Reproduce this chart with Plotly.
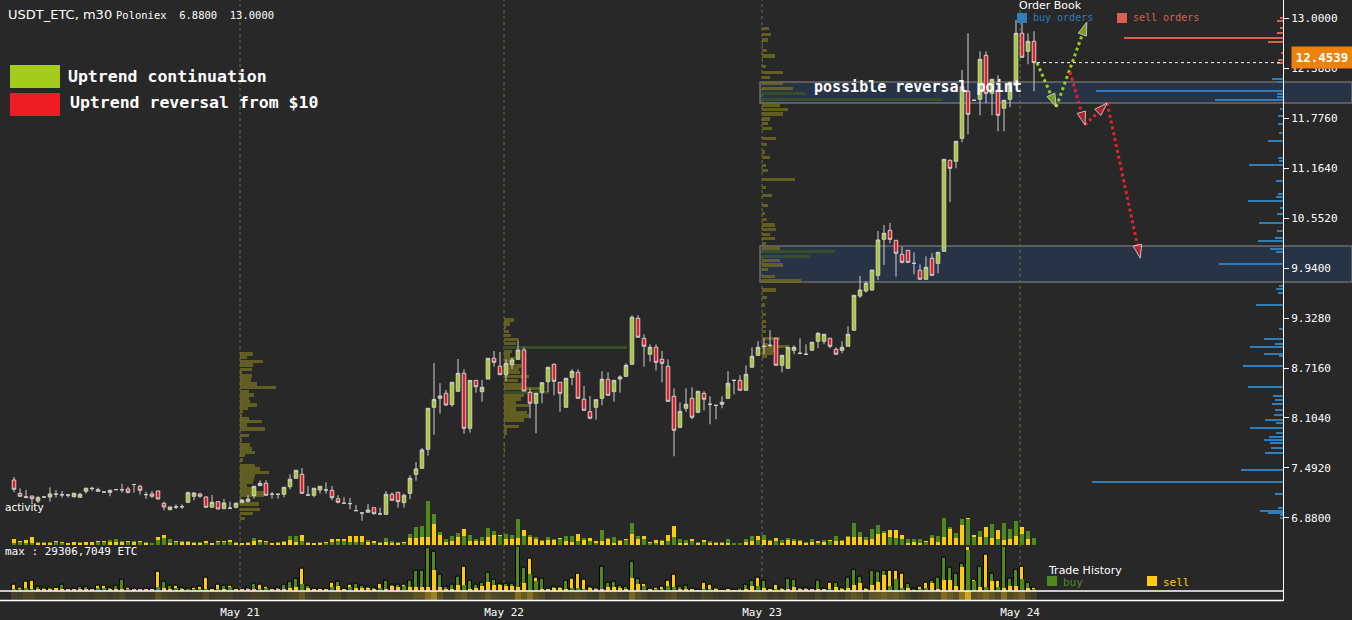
import plotly.graph_objects as go

# ---------------- data ----------------
open_ = [7.345,7.182,7.140,7.149,7.088,7.137,7.137,7.174,7.162,7.162,
         7.141,7.133,7.207,7.244,7.227,7.198,7.194,7.227,7.227,7.235,
         7.290,7.268,7.166,7.174,7.211,7.060,6.982,7.015,7.015,7.072,
         7.146,7.174,7.137,7.011,7.080,6.994,7.000,7.011,7.072,7.084,
         7.153,7.276,7.305,7.170,7.172,7.170,7.263,7.366,7.415,7.162,
         7.158,7.223,7.223,7.219,7.116,7.060,7.056,6.970,6.941,6.950,
         7.006,6.929,6.925,7.170,7.195,7.068,7.182,7.415,7.488,7.721,
         8.235,8.345,8.406,8.267,8.431,8.651,7.978,8.565,8.426,8.581,
         8.835,8.737,8.634,8.757,8.822,8.936,8.418,8.284,8.418,8.548,
         8.761,8.541,8.235,8.602,8.663,8.333,8.181,8.235,8.345,8.578,
         8.426,8.581,8.614,8.761,9.324,9.080,8.884,8.970,8.822,8.737,
         8.370,7.990,8.223,8.345,8.174,8.406,8.272,8.260,8.272,8.345,
         8.565,8.565,8.443,8.725,8.871,8.981,8.994,9.080,8.749,8.712,
         8.932,8.896,8.884,8.933,9.043,9.043,9.080,8.945,8.932,8.982,
         9.178,9.597,9.659,9.671,9.850,10.291,10.401,10.279,10.107,10.156,
         9.997,9.912,9.802,10.059,9.997,10.144,11.258,11.246,11.527,12.103,
         11.993,12.005,12.543,12.078,12.115,11.895,12.005,12.176,12.813,12.592,
         12.715]
high = [7.382,7.243,7.222,7.149,7.149,7.140,7.255,7.223,7.210,7.174,
        7.190,7.190,7.251,7.264,7.251,7.200,7.227,7.230,7.300,7.264,
        7.292,7.288,7.203,7.211,7.211,7.080,7.015,7.047,7.047,7.203,
        7.195,7.190,7.146,7.162,7.080,7.113,7.080,7.072,7.100,7.158,
        7.268,7.342,7.342,7.198,7.172,7.256,7.415,7.464,7.492,7.272,
        7.244,7.268,7.317,7.272,7.158,7.133,7.125,7.039,6.943,7.051,
        7.006,7.006,7.210,7.195,7.195,7.178,7.403,7.566,7.737,8.223,
        8.777,8.529,8.447,8.541,8.826,8.700,8.565,8.565,8.569,8.835,
        8.924,8.912,8.822,8.842,9.046,8.969,8.467,8.406,8.536,8.725,
        8.773,8.541,8.590,8.700,8.700,8.496,8.373,8.328,8.676,8.663,
        8.565,8.627,8.773,9.361,9.361,9.129,9.006,9.006,8.924,8.822,
        8.467,8.296,8.467,8.480,8.431,8.431,8.370,8.262,8.370,8.676,
        8.567,8.627,8.749,8.969,9.043,9.080,9.178,9.080,8.871,8.969,
        8.994,9.080,9.006,9.031,9.153,9.129,9.080,8.969,9.043,9.227,
        9.606,9.842,9.780,9.915,10.393,10.466,10.491,10.279,10.205,10.156,
        10.132,9.985,10.083,10.120,10.132,11.270,11.270,11.491,12.364,12.813,
        11.996,12.592,12.592,12.250,12.299,11.993,12.213,12.976,12.976,12.813,
        12.837]
low = [7.195,7.137,7.120,7.067,7.063,7.130,7.080,7.129,7.129,7.129,
       7.129,7.129,7.178,7.211,7.207,7.195,7.146,7.225,7.190,7.178,
       7.190,7.166,7.113,7.125,7.109,6.974,6.974,6.990,6.990,7.072,
       7.097,7.129,7.011,7.011,6.990,6.994,6.990,6.998,7.060,7.072,
       7.116,7.276,7.158,7.116,7.116,7.133,7.231,7.366,7.182,7.160,
       7.133,7.178,7.178,7.097,7.060,7.051,6.987,6.968,6.847,6.950,
       6.921,6.925,6.925,7.097,7.006,7.006,7.109,7.337,7.488,7.643,
       7.900,8.157,8.255,8.242,8.431,7.912,7.924,8.414,8.304,8.581,
       8.732,8.634,8.557,8.704,8.822,8.434,8.100,7.917,8.284,8.418,
       8.382,8.181,8.235,8.504,8.345,8.198,8.088,8.083,8.259,8.382,
       8.304,8.414,8.614,8.761,9.092,8.732,8.794,8.683,8.541,8.308,
       7.635,7.978,8.181,8.088,8.162,8.198,8.027,8.088,8.223,8.345,
       8.394,8.443,8.443,8.725,8.871,8.884,8.969,8.749,8.663,8.712,
       8.884,8.884,8.882,8.933,8.957,9.006,8.957,8.884,8.896,8.982,
       9.178,9.573,9.640,9.660,9.793,9.977,10.242,9.834,9.997,10.009,
       9.863,9.802,9.802,9.850,9.875,10.144,10.744,11.160,11.478,11.576,
       11.990,11.809,11.956,11.809,11.613,11.613,11.907,12.176,12.519,12.433,
       12.103]
close = [7.231,7.146,7.133,7.116,7.129,7.137,7.174,7.170,7.165,7.160,
         7.182,7.170,7.244,7.240,7.207,7.198,7.219,7.227,7.225,7.195,
         7.290,7.219,7.166,7.146,7.113,7.015,7.015,7.015,7.020,7.190,
         7.186,7.146,7.011,7.072,6.990,7.064,7.000,7.060,7.100,7.112,
         7.268,7.305,7.158,7.170,7.170,7.256,7.354,7.464,7.182,7.160,
         7.244,7.268,7.223,7.129,7.072,7.060,7.056,6.970,6.941,6.978,
         6.933,6.929,7.170,7.097,7.080,7.158,7.366,7.480,7.712,8.223,
         8.330,8.373,8.263,8.541,8.651,7.978,8.565,8.487,8.480,8.835,
         8.786,8.634,8.769,8.814,8.936,8.434,8.284,8.406,8.536,8.725,
         8.553,8.406,8.590,8.675,8.345,8.198,8.101,8.328,8.578,8.382,
         8.565,8.606,8.749,9.337,9.092,8.982,8.970,8.786,8.773,8.308,
         7.954,8.186,8.272,8.113,8.431,8.333,8.272,8.258,8.296,8.529,
         8.565,8.443,8.639,8.859,8.969,8.981,8.994,8.749,8.871,8.969,
         8.969,8.896,8.884,9.031,9.141,9.129,8.982,8.884,8.969,9.129,
         9.606,9.671,9.753,9.915,10.283,10.365,10.291,10.120,10.009,10.009,
         9.997,9.802,9.949,9.850,10.132,11.270,11.160,11.491,12.159,11.821,
         11.993,12.494,12.078,12.250,11.809,11.993,12.213,12.813,12.519,12.715,
         12.4539]

# activity panel (ETC)
act_buy = [1500,2000,1500,1300,2000,2000,2000,2000,1500,1500,
           2000,2000,2000,2000,2000,2000,3100,3800,2700,2000,
           2700,2000,2000,1100,3500,4700,4000,2000,2700,2700,
           2000,2000,1500,1500,2000,2000,2000,2000,1500,2000,
           4700,2000,2000,1500,2000,2700,6200,6200,2700,2000,
           1500,2000,1500,2000,2700,2700,2000,2000,2000,3300,
           1500,2000,4700,2700,2000,1100,7300,12000,12700,29300,
           20600,8700,4000,6000,8000,6000,6700,4000,5300,11300,
           9300,6000,7300,6700,17300,6000,6700,5300,3300,5300,
           4000,4000,6000,6000,2700,4700,2700,1300,10000,4700,
           5300,3300,3300,14700,6000,4000,1300,1300,3300,2700,
           5300,4000,3300,2700,2000,2000,2700,2000,2000,4000,
           700,700,4000,6000,3300,6700,3300,2700,3300,4700,
           4000,3300,2000,4000,1300,3300,2700,6000,3300,6000,
           14700,8700,5300,10700,13300,9300,5300,4700,4000,4000,
           4000,4000,2000,6700,6000,18000,12000,8000,17300,17300,
           5300,9300,5300,14000,4000,14700,10700,16000,7300,9300,
           4700]
act_sell = [4000,2900,3500,5300,700,1100,1500,2700,2000,1100,
            2000,1500,2000,2000,2700,2700,2000,2000,2000,2700,
            2000,2700,1500,1500,5300,6700,1500,2700,2000,2000,
            1500,1100,2700,1100,2900,2700,3300,1100,1100,1500,
            2900,3300,2700,1100,1500,2000,3300,2200,6700,1500,
            1100,1500,2000,4000,4000,4000,6000,6000,6000,2000,
            2700,1100,2000,1500,1500,2000,4700,4700,5300,5300,
            14000,6700,2000,2900,5300,10700,2700,2700,2700,5300,
            6700,6700,4000,4000,4700,10000,5300,4000,2700,3300,
            3300,4700,2700,2000,7300,3300,4700,2700,2700,4000,
            1300,2700,4000,7300,4000,6000,2000,3300,2700,6700,
            12700,1300,1300,4000,1300,3300,1300,1100,1100,1300,
            1300,1300,2000,2700,6000,3300,2700,4700,1300,3300,
            2700,2700,1300,2000,2700,2000,3300,2700,2700,5300,
            5300,5300,3300,4000,7300,8000,10000,10000,6700,1300,
            2000,1300,2700,4700,2000,5300,10700,4700,13300,18000,
            6700,5300,12000,4700,10000,3300,4000,6000,12000,4000,
            0]

# max panel (ETC)
max_buy = [1100,1100,2000,1300,2500,1800,2000,2000,3800,1100,
           1100,2500,2500,1100,2000,2000,1800,3300,7100,1100,
           1300,1300,1100,1100,2500,5800,3300,1800,1800,700,
           700,700,1100,1100,1100,3100,2500,1100,900,1800,
           4500,1100,1800,1100,1800,3800,5800,7800,4500,3100,
           1100,1100,1100,2500,5800,1100,2500,4500,3100,2500,
           1800,1800,6500,3800,3800,3100,6500,13100,13100,28400,
           25800,10500,2500,3800,9100,3800,6500,3800,5100,11800,
           7100,4500,4500,4500,29100,15100,11100,6500,8200,1100,
           2700,2500,6500,1800,1800,1100,2500,1800,15800,5100,
           5800,3100,2500,19100,7800,3100,1100,700,1100,3100,
           2500,2500,3100,1100,500,1100,1100,1800,500,1100,
           500,300,3800,6500,3100,6500,1100,1100,1800,7800,
           7100,1800,1800,1100,6500,1100,700,5100,2000,8500,
           13800,9100,1800,13100,12500,13100,3100,7800,1800,4500,
           1100,1100,1800,6500,8500,21800,15100,11100,17800,27100,
           6500,15800,2500,11100,2500,29100,7800,13800,7800,5100,
           1100]
max_sell = [3800,2000,5800,6500,1100,1100,1100,2000,1300,1100,
            700,700,700,700,3300,3300,700,1100,1100,1800,
            700,700,700,700,12500,1800,1100,3300,700,1100,
            1800,2500,8500,700,3800,1100,3100,700,700,700,
            1100,3800,2500,700,1100,1100,2000,2500,14500,1800,
            700,700,700,5100,3100,700,3800,1800,1800,1800,
            700,4500,1100,3100,2500,3800,2500,2500,2500,2500,
            13800,2500,1100,1100,3800,15800,1100,1800,3100,5800,
            3800,3800,3100,3100,2500,5100,21100,8500,1100,700,
            1800,1800,1100,7800,11100,7100,1800,700,1100,2500,
            2500,1800,1100,8500,4500,4500,700,1800,2500,6500,
            10500,1100,1100,700,300,5100,3800,700,300,700,
            300,1100,700,3100,8500,1800,700,3800,700,1100,
            2500,700,700,700,700,700,5100,2500,1100,1800,
            3800,5100,1100,3800,5800,10500,13100,13100,11100,1800,
            500,2500,5100,5100,1100,7100,7100,3100,15800,29100,
            7100,2500,23800,6500,6500,1800,3100,3100,15800,1800,
            1800]

# order book
buy_price = [12.250,12.217,12.110,12.066,12.037,11.996,11.882,11.800,11.699,11.589,
             11.495,11.290,11.250,11.204,11.005,10.842,10.813,10.760,10.671,10.597,
             10.487,10.393,10.311,10.271,10.169,10.132,9.985,9.720,9.679,9.634,
             9.484,9.190,9.067,9.006,8.977,8.887,8.866,8.741,8.480,8.374,
             8.324,8.275,8.202,8.141,8.079,8.043,7.978,7.917,7.872,7.835,
             7.794,7.733,7.679,7.467,7.317,7.170,6.999,6.966,6.938,6.917,6.880]
buy_amount = [1100,600,18700,600,600,6800,300,500,500,400,
              1500,500,400,3400,700,500,700,3500,300,600,
              2400,600,800,2500,1300,700,6400,400,700,500,
              2700,400,1900,800,3300,1900,400,4000,3500,1000,
              800,1100,800,900,1800,700,3300,700,1400,1900,
              1300,1200,1800,4200,19100,800,500,2300,1500,300,300]
sell_price = [13.004,12.967,12.874,12.820,12.751,12.710,12.568,12.486,12.453]
sell_amount = [300,600,300,600,15900,1500,200,500,600]

# volume profiles at day starts
prof1_price = [8.887,8.847,8.793,8.753,8.700,8.658,8.618,8.569,8.520,8.475,
               8.426,8.386,8.345,8.304,8.263,8.222,8.181,8.132,8.092,8.059,
               8.018,7.969,7.888,7.835,7.774,7.725,7.684,7.643,7.590,7.520,
               7.480,7.439,7.398,7.357,7.317,7.276,7.235,7.194,7.153,7.100,
               7.051,6.987,6.938,6.876]
prof1_vol = [1270,670,2270,1270,1170,170,1170,1070,1670,3570,
             870,1370,870,970,1670,770,270,170,870,2170,
             670,2470,870,170,970,1170,1470,470,270,1470,
             1970,2870,1470,1370,1270,670,1470,2570,2370,170,
             1870,1970,1270,470]
prof2_price = [9.303,9.255,9.209,9.160,9.111,9.067,9.018,8.970,8.916,8.875,
               8.826,8.781,8.741,8.700,8.659,8.610,8.561,8.508,8.467,8.418,
               8.377,8.337,8.296,8.255,8.214,8.174,8.129,8.079,8.039,7.998,
               7.957,7.916,7.875,7.774,7.692]
prof2_vol = [1000,600,200,500,700,1500,1200,12300,800,600,
             1100,1000,1700,1500,1600,2500,1400,1700,3600,4400,
             2000,1700,1200,2600,1200,2300,2500,2000,100,1500,
             300,300,100,100,100]
prof3_price = [12.874,12.801,12.731,12.670,12.600,12.535,12.465,12.404,12.335,12.270,
               12.201,12.140,12.078,12.005,11.935,11.882,11.825,11.764,11.711,11.650,
               11.527,11.450,11.360,11.290,11.200,11.130,11.020,10.930,10.830,10.710,
               10.610,10.530,10.466,10.414,10.352,10.303,10.242,10.181,10.139,10.083,
               10.029,9.977,9.924,9.834,9.781,9.671,9.577,9.487,9.373,9.283,
               9.221,9.160,9.080,8.998,8.977,8.936,8.896,8.855]
prof3_vol = [700,900,600,100,500,1300,100,400,2100,800,
             2100,3100,4400,18000,1800,2600,2100,800,600,1000,
             1400,500,300,800,400,600,3300,400,1000,600,
             300,500,1300,1400,800,1300,400,1800,7300,4800,
             1800,2100,600,1300,3900,1400,500,300,400,400,
             400,400,1800,600,2700,1400,1100,500]

# projected paths (candle index, price)
cont_x = [170.5, 173.7, 178.8]
cont_y = [12.45, 11.91, 12.95]
rev_x = [176.0, 178.5, 182.2, 187.7]
rev_y = [12.34, 11.69, 11.96, 10.06]

day_pos = [37.67, 81.67, 124.67, 167.67]
day_labels = ['May 21', 'May 22', 'May 23', 'May 24']
price_ticks = [6.88, 7.492, 8.104, 8.716, 9.328, 9.94, 10.552, 11.164, 11.776, 12.388, 13.0]
zone_reversal = [11.96, 12.217]
zone_support = [9.769, 10.209]

# ---------------- styling ----------------
W, H = 1352, 620
ML, MR, MT, MB = 0, 69, 0, 19
PW, PH = W - ML - MR, H - MT - MB
BG = '#282828'
MONO = 'DejaVu Sans Mono'
SANS = 'DejaVu Sans'
C_UP = '#a5cb1c'
C_DN = '#ec1c24'
C_BUY = '#4f8a1f'
C_SELL = '#ffc90e'


def fx(px):
    return (px - ML) / PW


def fy(py):
    return 1 - (py - MT) / PH


idx = list(range(len(open_)))
fig = go.Figure()

# strip
strip = [b + s for b, s in zip(max_buy, max_sell)]
fig.add_trace(go.Heatmap(x=idx, y=[0], z=[strip], xaxis='x', yaxis='y4', showscale=False,
                         colorscale=[[0, '#3a382a'], [0.12, '#4c4628'], [0.4, '#6c5e22'], [1, '#cfa31a']],
                         hoverinfo='skip'))

# volume profiles
for base, pr, vol in [(day_pos[0], prof1_price, prof1_vol),
                      (day_pos[1], prof2_price, prof2_vol),
                      (day_pos[2], prof3_price, prof3_vol)]:
    fig.add_trace(go.Bar(orientation='h', y=pr, x=[v / 600 for v in vol], base=base, width=0.038,
                         marker=dict(color=['rgba(58,82,40,0.85)' if v > 4000 else 'rgba(112,108,32,0.8)' for v in vol],
                                     line=dict(width=0)),
                         xaxis='x', yaxis='y', hoverinfo='skip'))

# order book
fig.add_trace(go.Bar(orientation='h', y=buy_price, x=buy_amount, width=0.012,
                     marker=dict(color='#2f7db9', line=dict(width=0)), xaxis='x2', yaxis='y'))
fig.add_trace(go.Bar(orientation='h', y=sell_price, x=sell_amount, width=0.012,
                     marker=dict(color='#d9614f', line=dict(width=0)), xaxis='x2', yaxis='y'))

# candles
fig.add_trace(go.Candlestick(x=idx, open=open_, high=high, low=low, close=close,
                             increasing=dict(fillcolor=C_UP, line=dict(color='#cfcfcf', width=1)),
                             decreasing=dict(fillcolor=C_DN, line=dict(color='#cfcfcf', width=1)),
                             whiskerwidth=0, xaxis='x', yaxis='y'))


def overlay(buy, sell, yaxis, outline):
    big, bigc, small, smallc = [], [], [], []
    for b, s in zip(buy, sell):
        if b >= s:
            big.append(b); bigc.append(C_BUY); small.append(s); smallc.append(C_SELL)
        else:
            big.append(s); bigc.append(C_SELL); small.append(b); smallc.append(C_BUY)
    ln = dict(color='#000000', width=1) if outline else dict(width=0)
    fig.add_trace(go.Bar(x=idx, y=big, width=0.8, marker=dict(color=bigc, line=ln), xaxis='x', yaxis=yaxis))
    fig.add_trace(go.Bar(x=idx, y=small, width=0.8, marker=dict(color=smallc, line=dict(width=0)), xaxis='x', yaxis=yaxis))


overlay(act_buy, act_sell, 'y2', False)
overlay(max_buy, max_sell, 'y3', True)

# projected paths
fig.add_trace(go.Scatter(x=cont_x, y=cont_y, mode='lines+markers', xaxis='x', yaxis='y',
                         line=dict(color='#9acd1a', width=3, dash='dot'),
                         marker=dict(symbol=['circle', 'arrow', 'arrow'], size=[9, 14, 14],
                                     angleref='previous', color='#9acd1a')))
fig.add_trace(go.Scatter(x=rev_x, y=rev_y, mode='lines+markers', xaxis='x', yaxis='y',
                         line=dict(color='#e8202a', width=3, dash='dot'),
                         marker=dict(symbol=['circle', 'arrow', 'arrow', 'arrow'], size=[9, 14, 14, 14],
                                     angleref='previous', color='#e8202a')))

shapes = []
for lo, hi in [zone_reversal, zone_support]:
    shapes.append(dict(type='rect', xref='paper', yref='y', x0=fx(760), x1=fx(1352), y0=lo, y1=hi,
                       fillcolor='rgba(40,62,95,0.55)', line=dict(color='#6c6c6c', width=1.5), layer='below'))
for d in day_pos:
    shapes.append(dict(type='line', xref='x', yref='paper', x0=d, x1=d, y0=0, y1=1,
                       line=dict(color='#65773f', width=1, dash='dot'), layer='below'))
shapes.append(dict(type='line', xref='paper', yref='paper', x0=0, x1=1, y0=fy(591), y1=fy(591),
                   line=dict(color='white', width=1.5)))
shapes.append(dict(type='line', xref='paper', yref='paper', x0=0, x1=1, y0=fy(600.5), y1=fy(600.5),
                   line=dict(color='white', width=1.5)))
shapes.append(dict(type='line', xref='x', yref='y', x0=idx[-1] + 0.5, x1=211.5, y0=close[-1], y1=close[-1],
                   line=dict(color='white', width=1, dash='dot')))
# legend squares
shapes.append(dict(type='rect', xref='paper', yref='paper', x0=fx(10), x1=fx(60), y0=fy(88), y1=fy(65),
                   fillcolor=C_UP, line=dict(width=0)))
shapes.append(dict(type='rect', xref='paper', yref='paper', x0=fx(10), x1=fx(60), y0=fy(116), y1=fy(93),
                   fillcolor='#ee1c24', line=dict(width=0)))
for x0, y0, col in [(1017, 13, '#2f7db9'), (1117, 13, '#d9614f'), (1047, 576, C_BUY), (1147, 576, C_SELL)]:
    shapes.append(dict(type='rect', xref='paper', yref='paper', x0=fx(x0), x1=fx(x0 + 10), y0=fy(y0 + 10), y1=fy(y0),
                       fillcolor=col, line=dict(width=0)))

annotations = []


def txt(x, y, s, size, color='white', family=MONO, xanchor='left'):
    annotations.append(dict(xref='paper', yref='paper', x=fx(x), y=fy(y), text=s, showarrow=False,
                            xanchor=xanchor, yanchor='middle', font=dict(family=family, size=size, color=color)))


txt(6, 15, 'USDT_ETC, m30', 13, family=SANS)
txt(114, 15, 'Poloniex  6.8800  13.0000', 10.5)
txt(66, 76, '<b>Uptrend continuation</b>', 16.5)
txt(68, 103, '<b>Uptrend reversal from $10</b>', 16.5)
txt(812, 87, '<b>possible reversal point</b>', 15)
txt(1017, 6, 'Order Book', 11, family=SANS)
txt(1031, 18, 'buy orders', 10, color='#2f7db9')
txt(1131, 18, 'sell orders', 10, color='#d9614f')
txt(3, 507, 'activity', 10.5, family=SANS)
txt(3, 551, 'max : 29306,7049 ETC', 11)
txt(1046, 570, 'Trade History', 11, family=SANS)
txt(1061, 582, 'buy', 11, color=C_BUY)
txt(1161, 582, 'sell', 11, color=C_SELL)
annotations.append(dict(xref='paper', yref='paper', x=fx(1322), y=fy(57.5), text='<b>%.4f</b>' % close[-1],
                        showarrow=False, xanchor='center', yanchor='middle', bgcolor='#ee8208',
                        width=58, height=19, font=dict(family=MONO, size=12.5, color='white')))

fig.update_layout(
    width=W, height=H, margin=dict(l=ML, r=MR, t=MT, b=MB),
    paper_bgcolor=BG, plot_bgcolor='rgba(0,0,0,0)', showlegend=False, barmode='overlay', bargap=0, boxgap=0.15,
    font=dict(family=MONO, color='white'),
    xaxis=dict(domain=[0, 1], range=[-2.333, 211.5], anchor='y4', tickvals=day_pos, ticktext=day_labels,
               showgrid=False, zeroline=False, showline=False, ticks='', rangeslider=dict(visible=False),
               ticklabelstandoff=3, tickfont=dict(family=MONO, size=11, color='white')),
    xaxis2=dict(overlaying='x', range=[128300, 0], visible=False, anchor='y'),
    yaxis=dict(domain=[0, 1], range=[5.864, 13.2203], side='right', anchor='x', tickvals=price_ticks,
               tickformat='.4f', ticks='outside', ticklen=5, tickcolor='white', showline=True,
               linecolor='white', linewidth=1, showgrid=False, zeroline=False,
               tickfont=dict(family=MONO, size=11, color='white')),
    yaxis2=dict(domain=[fy(545), fy(500)], range=[0, 29970], visible=False, anchor='x'),
    yaxis3=dict(domain=[fy(590.7), fy(546.7)], range=[0, 29304], visible=False, anchor='x'),
    yaxis4=dict(domain=[0, fy(591)], range=[-0.5, 0.5], visible=False, anchor='x'),
    shapes=shapes, annotations=annotations,
)

fig.write_html('out.html', config={'displayModeBar': False},
               post_script="document.body.style.margin='0';document.body.style.background='%s';" % BG)
